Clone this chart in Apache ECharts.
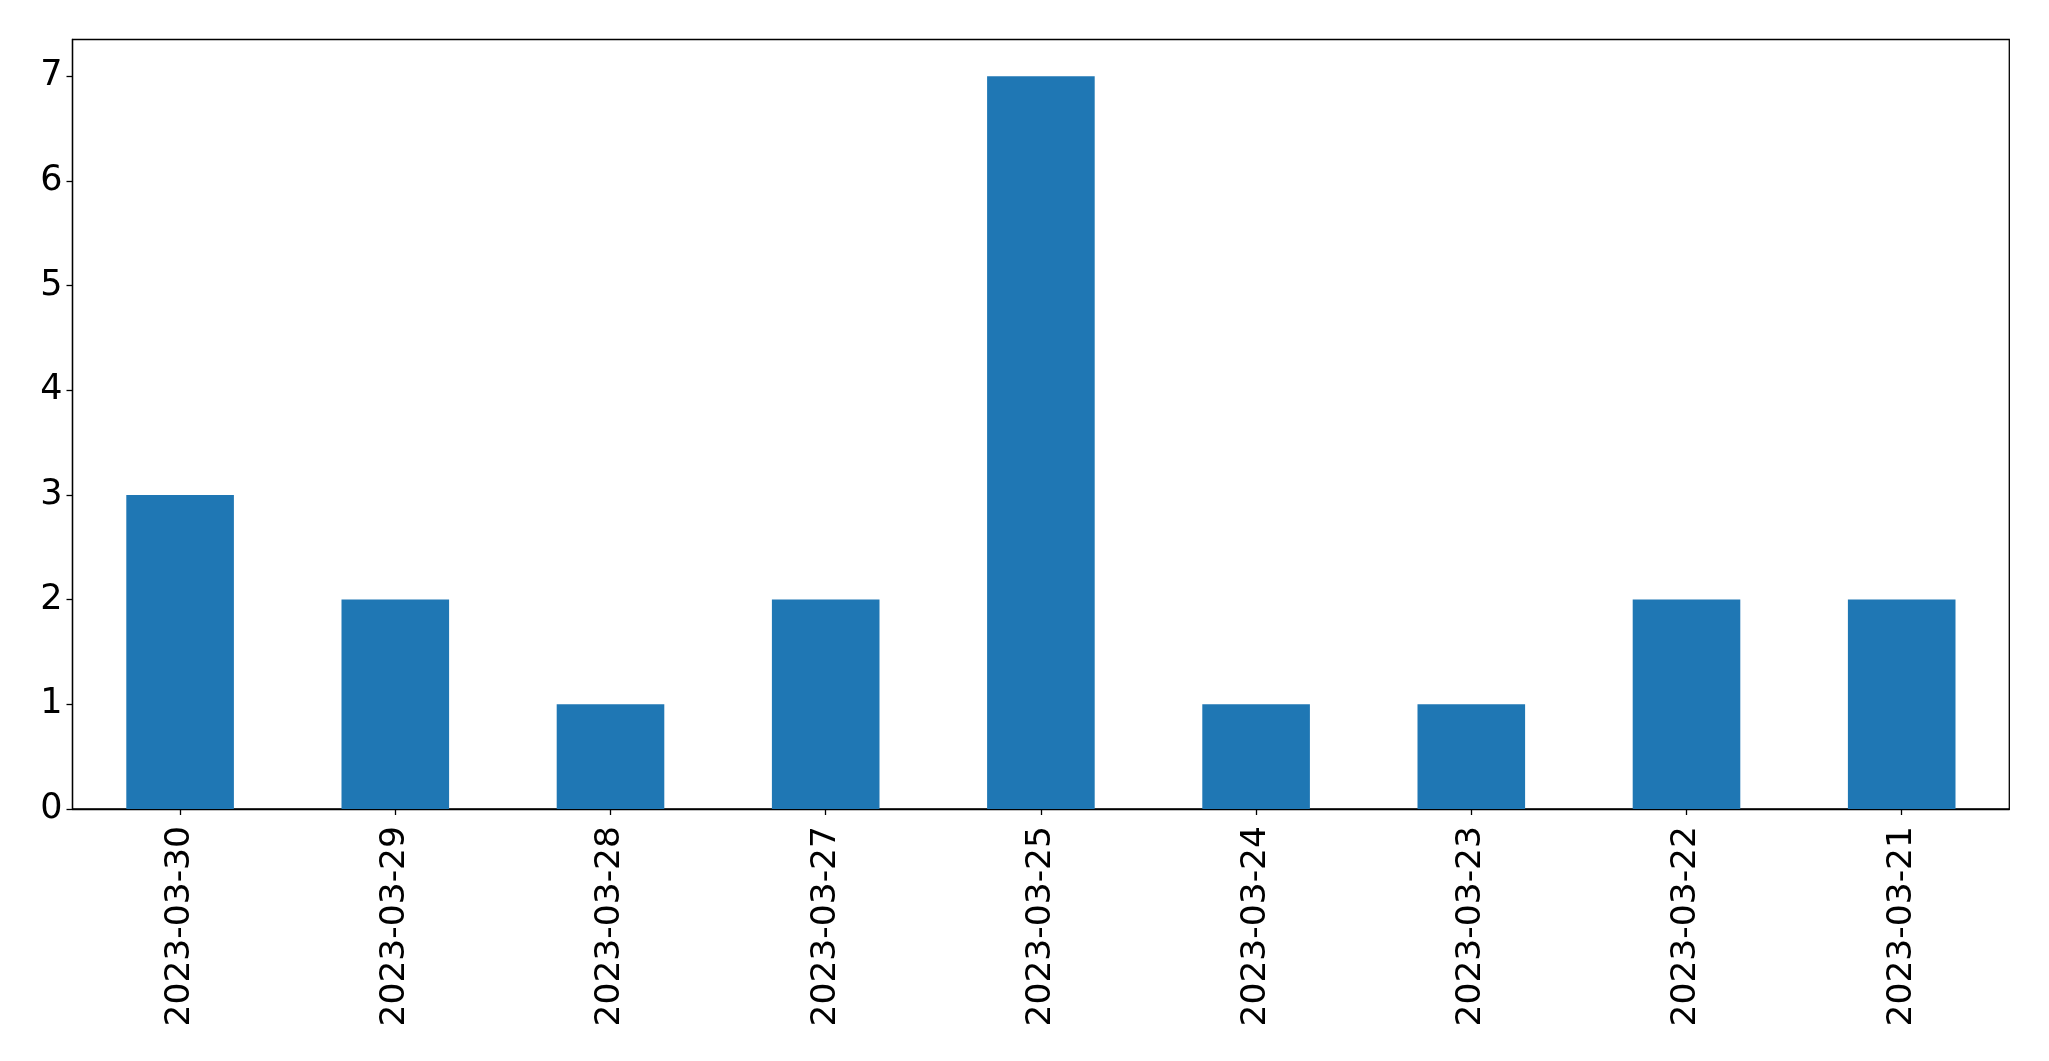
<!DOCTYPE html>
<html>
<head>
<meta charset="utf-8">
<script src="https://cdn.jsdelivr.net/npm/echarts@6/dist/echarts.min.js"></script>
<style>
html,body{margin:0;padding:0;background:#fff;}
#c{width:2049px;height:1061px;}
</style>
</head>
<body>
<div id="c"></div>
<script>
const categories = ['2023-03-30','2023-03-29','2023-03-28','2023-03-27','2023-03-25','2023-03-24','2023-03-23','2023-03-22','2023-03-21'];
const counts = [3, 2, 1, 2, 7, 1, 1, 2, 2];
const yTicks = [0, 1, 2, 3, 4, 5, 6, 7];

const chart = echarts.init(document.getElementById('c'), null, {renderer: 'canvas'});
const font = 'DejaVu Sans';
chart.setOption({
  animation: false,
  backgroundColor: '#ffffff',
  grid: {
    left: 72.5, right: 39.7, top: 39.5, bottom: 252,
    show: true, borderColor: '#000', borderWidth: 1.3, backgroundColor: 'transparent'
  },
  xAxis: {
    type: 'category',
    data: categories,
    boundaryGap: true,
    axisLine: {show: true, lineStyle: {color: '#000', width: 1.3}},
    axisTick: {show: true, alignWithLabel: true, length: 6, lineStyle: {color: '#000', width: 1.3}},
    axisLabel: {rotate: 90, margin: 17, fontSize: 34.5, fontFamily: font, color: '#000'},
    splitLine: {show: false}
  },
  yAxis: {
    type: 'value',
    min: 0, max: 7.35, interval: 1,
    axisLine: {show: true, lineStyle: {color: '#000', width: 1.3}},
    axisTick: {show: true, length: 6, lineStyle: {color: '#000', width: 1.3}, customValues: yTicks},
    axisLabel: {margin: 10, fontSize: 35, fontFamily: font, color: '#000', customValues: yTicks},
    splitLine: {show: false}
  },
  series: [{
    type: 'bar',
    data: counts,
    barWidth: '50%',
    itemStyle: {color: '#1f77b4'}
  }]
});
</script>
</body>
</html>
